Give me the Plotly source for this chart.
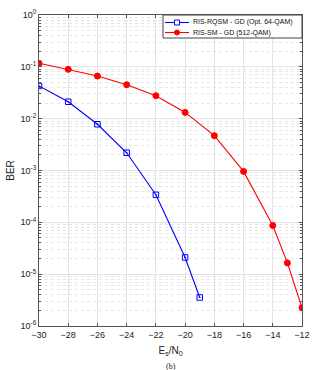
import plotly.graph_objects as go

snr_rqsm = [-30, -28, -26, -24, -22, -20, -19]
ber_rqsm = [0.0427, 0.0212, 0.0078, 0.0022, 3.4e-4, 2.1e-5, 3.55e-6]

snr_sm = [-30, -28, -26, -24, -22, -20, -18, -16, -14, -13, -12]
ber_sm = [0.117, 0.0894, 0.0664, 0.0452, 0.0277, 0.0132, 0.0047, 9.6e-4, 8.7e-5, 1.65e-5, 2.25e-6]

names = ["RIS-RQSM - GD (Opt. 64-QAM)", "RIS-SM - GD (512-QAM)"]
colors = ["#0000FF", "#FF0000"]
symbols = ["square-open-dot", "circle"]
msizes = [5.5, 6]

x_ticks = list(range(-30, -11, 2))
y_exps = [0, -1, -2, -3, -4, -5, -6]
y_ticktext = ["10<sup>%d</sup>" % e for e in y_exps]

FONT = "Liberation Sans, Arial"
W, H = 313, 370
ML, MR, MT, MB = 39, 11, 15, 44
PW, PH = W - ML - MR, H - MT - MB

fig = go.Figure()
for xs, ys, nm, c, s, ms in [(snr_rqsm, ber_rqsm, names[0], colors[0], symbols[0], msizes[0]),
                             (snr_sm, ber_sm, names[1], colors[1], symbols[1], msizes[1])]:
    fig.add_trace(go.Scatter(
        x=xs, y=ys, mode="lines+markers", name=nm, showlegend=False,
        line=dict(color=c, width=1.1),
        marker=dict(symbol=s, size=ms, color=c, line=dict(width=1, color=c)),
    ))

axis_common = dict(
    showline=True, linecolor="#555555", linewidth=1, mirror="allticks",
    ticks="inside", ticklen=3, tickcolor="#555555",
    showgrid=True, gridcolor="#E3E3E3", gridwidth=1,
    tickfont=dict(family=FONT, size=9, color="#222222"),
    zeroline=False, automargin=False,
)

fig.update_xaxes(
    range=[-30, -12], tickvals=x_ticks,
    title=dict(text="E<sub>s</sub>/N<sub>0</sub>",
               font=dict(family=FONT, size=10, color="#222222"), standoff=8),
    **axis_common,
)
fig.update_yaxes(
    type="log", range=[-6, 0],
    tickvals=[10 ** e for e in y_exps], ticktext=y_ticktext,
    title=dict(text="BER", font=dict(family=FONT, size=10, color="#222222"), standoff=4),
    minor=dict(ticks="inside", ticklen=2, tickcolor="#555555", showgrid=True,
               gridcolor="#E6E6E6", griddash="dot", dtick="D1"),
    **axis_common,
)

# compact legend drawn with shapes in plot-domain coordinates
leg_px_left, leg_px_h = 163 - ML, 23
lx0 = leg_px_left / PW
ly1 = 1.0
ly0 = 1.0 - leg_px_h / PH
XR, YR = "x domain", "y domain"
fig.add_shape(type="rect", xref=XR, yref=YR, x0=lx0, x1=1.0, y0=ly0, y1=ly1,
              line=dict(color="#444444", width=1), fillcolor="white", layer="above")
row_px = [7.5, 17.5]
for i in range(2):
    yy = 1.0 - row_px[i] / PH
    xa = lx0 + 2 / PW
    xb = lx0 + 26 / PW
    xm = (xa + xb) / 2
    fig.add_shape(type="line", xref=XR, yref=YR, x0=xa, x1=xb, y0=yy, y1=yy,
                  line=dict(color=colors[i], width=1.1), layer="above")
    hx, hy = 2.5 / PW, 2.5 / PH
    if i == 0:
        fig.add_shape(type="rect", xref=XR, yref=YR, x0=xm - hx, x1=xm + hx, y0=yy - hy, y1=yy + hy,
                      line=dict(color=colors[i], width=1), fillcolor="white", layer="above")
    else:
        fig.add_shape(type="circle", xref=XR, yref=YR, x0=xm - hx, x1=xm + hx, y0=yy - hy, y1=yy + hy,
                      line=dict(color=colors[i], width=1), fillcolor=colors[i], layer="above")
    fig.add_annotation(x=lx0 + 28 / PW, y=yy, xref=XR, yref=YR, text=names[i],
                       showarrow=False, xanchor="left", yanchor="middle",
                       font=dict(family=FONT, size=7, color="#111111"))

fig.add_annotation(x=0.5, y=-0.13, xref="paper", yref="paper", text="(b)", showarrow=False,
                   xanchor="center", yanchor="middle", font=dict(family="Liberation Serif", size=8, color="#222222"))

fig.update_layout(
    width=W, height=H,
    margin=dict(l=ML, r=MR, t=MT, b=MB),
    paper_bgcolor="white", plot_bgcolor="white",
    showlegend=False,
)

fig.write_html("out.html", config={"displayModeBar": False},
               post_script="document.body.style.margin='0';")
